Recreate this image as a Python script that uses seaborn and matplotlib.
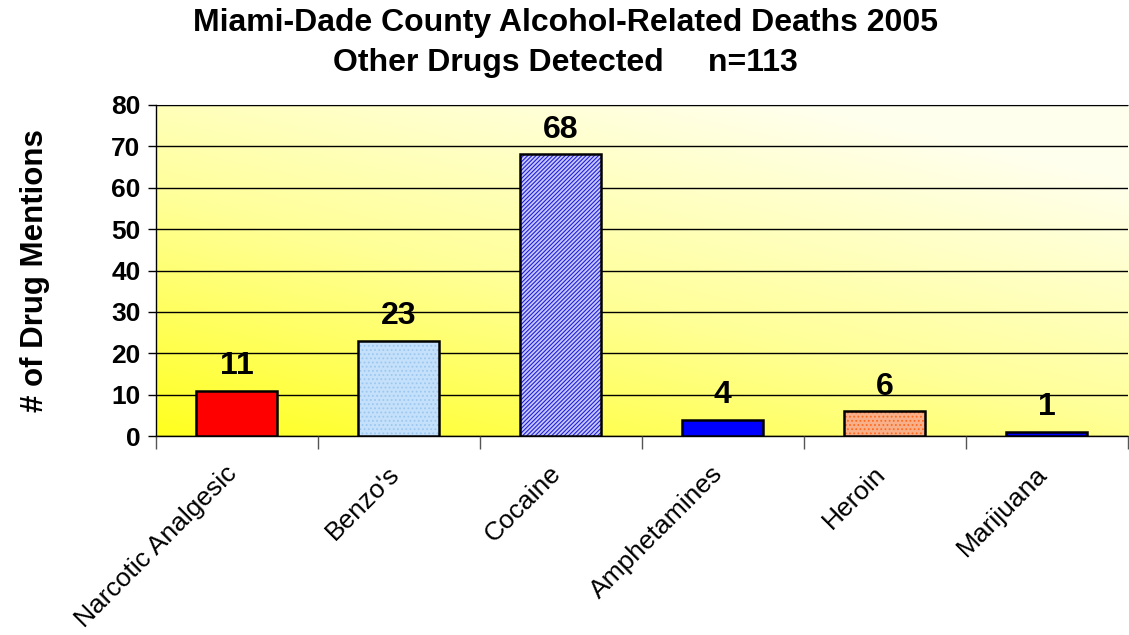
import matplotlib
matplotlib.use("Agg")
import matplotlib.pyplot as plt
import matplotlib.transforms as mtransforms
import numpy as np
import pandas as pd
import seaborn as sns
from matplotlib.colors import to_rgba, LinearSegmentedColormap

drugs = ["Narcotic Analgesic", "Benzo's", "Cocaine", "Amphetamines", "Heroin", "Marijuana"]
mentions = [11, 23, 68, 4, 6, 1]
yticks = [0, 10, 20, 30, 40, 50, 60, 70, 80]

# fill, hatch, hatch colour per bar
fills = ["#ff0000", "#c4e0fa", "#c8c8ff", "#0000ff", "#f7b08a", "#0000ff"]
hatches = [None, "....", "////////", None, "....", None]
hatch_cols = [None, "#9cc8f0", "#2020d8", None, "#ff6a20", None]

df = pd.DataFrame({"drug": drugs, "n": mentions})

sns.set_style("white")
plt.rcParams["font.family"] = ["Liberation Sans", "DejaVu Sans"]
plt.rcParams["hatch.linewidth"] = 0.8
for k in ["text.color", "axes.labelcolor", "xtick.color", "ytick.color"]:
    plt.rcParams[k] = "black"

fig = plt.figure(figsize=(11.29, 6.35), dpi=100)
ax = fig.add_axes([0.138, 0.313, 0.861, 0.522])

# yellow gradient background
gx, gy = np.meshgrid(np.linspace(0, 1, 200), np.linspace(0, 1, 200))
g = np.clip((gx * 0.6 + gy * 0.9) / 1.3, 0, 1)
cmap = LinearSegmentedColormap.from_list("yl", ["#ffff20", "#ffff99", "#ffffee"])
ax.imshow(g, cmap=cmap, extent=[0, 1, 0, 1], transform=ax.transAxes,
          origin="lower", aspect="auto", zorder=0)

sns.barplot(data=df, x="drug", y="n", ax=ax, width=0.5, palette=fills,
            hue="drug", legend=False, edgecolor="black", linewidth=1.8,
            saturation=1, zorder=3)

for p, h, hc in zip(ax.patches, hatches, hatch_cols):
    if h:
        p.set_hatch(h)
        p._hatch_color = to_rgba(hc)

for i, v in enumerate(mentions):
    ax.annotate(str(v), (i, v), xytext=(0, 7), textcoords="offset points",
                ha="center", va="bottom", fontsize=23, fontweight="bold", zorder=5)

ax.set_ylim(0, 80)
ax.set_xlim(-0.5, len(drugs) - 0.5)
ax.set_yticks(yticks)
ax.set_yticklabels([str(t) for t in yticks], fontsize=19, fontweight="bold")
ax.yaxis.grid(True, color="black", linewidth=1)
ax.set_axisbelow(False)
for ln in ax.get_ygridlines():
    ln.set_zorder(1)

ax.set_xticks(range(len(drugs)))
ax.set_xticklabels(drugs, rotation=45, ha="right", rotation_mode="anchor", fontsize=19)
ax.set_xticks(np.arange(-0.5, len(drugs)), minor=True)
ax.tick_params(axis="x", which="major", length=0, pad=16, bottom=True)
ax.tick_params(axis="x", which="minor", length=9, width=1, color="#555555",
               direction="out", bottom=True)
ax.tick_params(axis="y", length=6, width=1, direction="out", left=True, pad=5)

# nudge rotated category labels left
shift = mtransforms.ScaledTranslation(-12 / 100, -3 / 100, fig.dpi_scale_trans)
for lbl in ax.get_xticklabels():
    lbl.set_transform(lbl.get_transform() + shift)

ax.set_xlabel("")
ax.set_ylabel("# of Drug Mentions", fontsize=22.5, fontweight="bold", labelpad=44)

for s in ["left", "bottom"]:
    ax.spines[s].set_color("black")
    ax.spines[s].set_linewidth(1)
ax.spines["top"].set_color("#777777")
ax.spines["right"].set_visible(False)

fig.text(0.501, 0.963, "Miami-Dade County Alcohol-Related Deaths 2005",
         ha="center", va="center", fontsize=23, fontweight="bold")
fig.text(0.501, 0.900, "Other Drugs Detected     n=113",
         ha="center", va="center", fontsize=23, fontweight="bold")

fig.savefig("out.png", dpi=100)
